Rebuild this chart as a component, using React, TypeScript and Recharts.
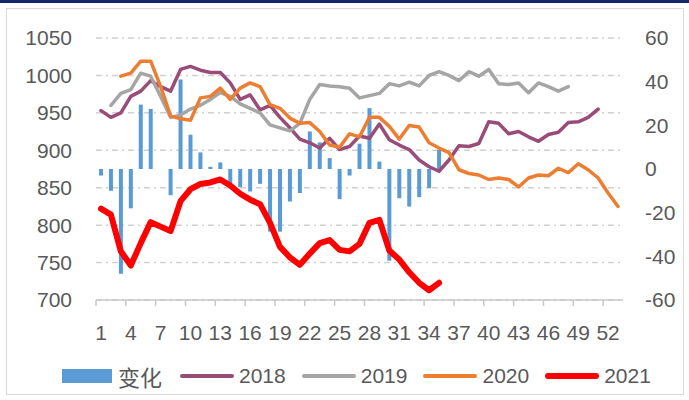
import React from "react";
import { ComposedChart, Bar, Line, XAxis, YAxis, CartesianGrid } from "recharts";

// weekly categories
const weeks = [
  "1", "2", "3", "4", "5", "6", "7", "8", "9", "10", "11", "12", "13", "14", "15", "16", "17", "18",
  "19", "20", "21", "22", "23", "24", "25", "26", "27", "28", "29", "30", "31", "32", "33", "34", "35",
  "36", "37", "38", "39", "40", "41", "42", "43", "44", "45", "46", "47", "48", "49", "50", "51", "52", "53",
];

// 变化 (right axis)
const change = [
  -3, -10, -48, -18, 29.5, 27.5, 0, -12, 41, 15.7, 7.6, 1, 3, -8.3, -8.3, -10.3, -6.8, -28.7,
  -28.7, -14.9, -11, 17.2, 12.2, 5, -13.8, -3, 11.6, 27.9, 3.4, -42, -13.4, -17.2, -12.9, -8.8, 8.8,
  null, null, null, null, null, null, null, null, null, null, null, null, null, null, null, null, null, null,
];

const y2018 = [
  953, 944, 950, 972, 979, 993, 985, 979, 1008, 1012, 1007, 1004, 1004, 990, 968, 974, 954, 960,
  944, 930, 915, 910, 903, 916, 901, 905, 919, 916, 935, 914, 907, 901, 887, 878, 872,
  887, 906, 905, 909, 938, 936, 922, 925, 918, 912, 921, 924, 937, 938, 944, 955, null, null,
];

const y2019 = [
  null, 960, 976, 981, 1003, 999, 972, 944, 947, 955, 960, 968, 977, 972, 962, 956, 950, 934,
  930, 926, 936, 968, 988, 986, 985, 983, 970, 973, 976, 989, 986, 991, 986, 1000, 1005,
  1000, 993, 1005, 999, 1008, 989, 988, 990, 977, 990, 985, 979, 985, null, null, null, null, null,
];

const y2020 = [
  null, null, 999, 1003, 1019, 1019, 985, 946, 942, 940, 970, 972, 983, 968, 983, 990, 985, 961,
  956, 943, 936, 937, 925, 907, 904, 922, 918, 944, 944, 932, 915, 933, 931, 910, 903,
  897, 874, 869, 867, 861, 863, 861, 851, 863, 867, 866, 876, 870, 882, 874, 863, 843, 825,
];

const y2021 = [
  822, 814, 765, 746, 776, 804, 798, 792, 832, 848, 855, 857, 861, 853, 842, 834, 828, 803,
  771, 757, 747, 762, 776, 780, 767, 765, 775, 803, 807, 766, 754, 737, 723, 713, 723,
  null, null, null, null, null, null, null, null, null, null, null, null, null, null, null, null, null, null,
];

const leftTicks = [700, 750, 800, 850, 900, 950, 1000, 1050];
const rightTicks = [-60, -40, -20, 0, 20, 40, 60];

const data = weeks.map((w, i) => ({
  week: w,
  change: change[i],
  y2018: y2018[i],
  y2019: y2019[i],
  y2020: y2020[i],
  y2021: y2021[i],
}));

const lines = [
  { key: "y2018", name: "2018", color: "#9a4c78", width: 3.5 },
  { key: "y2019", name: "2019", color: "#a5a5a5", width: 3.5 },
  { key: "y2020", name: "2020", color: "#ed7d31", width: 3.5 },
  { key: "y2021", name: "2021", color: "#ff0000", width: 6 },
];

const FONT = "'Liberation Sans', Arial, sans-serif";
const TEXT = "#595959";
const AXIS = "#c8c8c8";
const FS = 21;
const W = 689;
const H = 400;
const LEFT_W = 96;
const RIGHT_W = 66;
const BAND = (W - LEFT_W - RIGHT_W) / weeks.length;
const X_MARGIN = 19;

const XTick = (props: any) => {
  const { x, y, payload } = props;
  const bx = x - BAND / 2;
  return (
    <g>
      <line x1={bx} x2={bx} y1={y - 6 - X_MARGIN} y2={y - X_MARGIN} stroke={AXIS} strokeWidth={1.5} />
      <text x={x} y={y} dy="0.71em" textAnchor="middle" fill={TEXT} fontSize={FS} fontFamily={FONT}>
        {payload.value}
      </text>
    </g>
  );
};

export default function App() {
  return (
    <div style={{ position: "absolute", left: 0, top: 0, width: W, height: H, background: "#fff" }}>
      <div style={{ position: "absolute", left: 0, top: 0, width: W, height: 3, background: "#14276b" }} />
      <div
        style={{
          position: "absolute",
          left: 6,
          top: 8,
          width: 676,
          height: 385,
          border: "1px solid #d9d9d9",
        }}
      />
      <div style={{ position: "absolute", left: 0, top: 0 }}>
        <ComposedChart width={W} height={H} data={data} margin={{ top: 38, right: 0, bottom: 60, left: 0 }}>
          <CartesianGrid
            vertical={false}
            yAxisId="left"
            stroke="#d0d0d0"
            strokeWidth={1.5}
            strokeDasharray="6 4 2 4"
          />
          <XAxis
            dataKey="week"
            interval={2}
            height={40}
            tickLine={false}
            tickSize={6}
            tickMargin={X_MARGIN}
            stroke={AXIS}
            strokeWidth={1.5}
            tick={<XTick />}
          />
          <YAxis
            yAxisId="left"
            domain={[700, 1050]}
            ticks={leftTicks}
            width={LEFT_W}
            axisLine={false}
            tickLine={false}
            tickMargin={18}
            tick={{ fill: TEXT, fontSize: FS, fontFamily: FONT }}
          />
          <YAxis
            yAxisId="right"
            orientation="right"
            domain={[-60, 60]}
            ticks={rightTicks}
            width={RIGHT_W}
            axisLine={false}
            tickLine={false}
            tickMargin={16}
            tick={{ fill: TEXT, fontSize: FS, fontFamily: FONT }}
          />
          <Bar yAxisId="right" dataKey="change" fill="#5b9bd5" barSize={4} isAnimationActive={false} />
          {lines.map((s) => (
            <Line
              key={s.key}
              yAxisId="left"
              dataKey={s.key}
              stroke={s.color}
              strokeWidth={s.width}
              dot={false}
              activeDot={false}
              strokeLinejoin="round"
              strokeLinecap="round"
              isAnimationActive={false}
            />
          ))}
        </ComposedChart>
      </div>
      {/* Legend */}
      <div
        style={{
          position: "absolute",
          left: 62,
          top: 364,
          height: 24,
          display: "flex",
          alignItems: "center",
          gap: 16,
          fontFamily: FONT,
          fontSize: FS,
          color: TEXT,
        }}
      >
        <div style={{ display: "flex", alignItems: "center", gap: 6, marginRight: 2 }}>
          <div style={{ width: 50, height: 14, background: "#5b9bd5" }} />
          <span style={{ fontFamily: "'Noto Sans CJK SC', sans-serif", fontSize: 22 }}>变化</span>
        </div>
        {lines.map((s) => (
          <div key={s.key} style={{ display: "flex", alignItems: "center", gap: 5 }}>
            <div style={{ width: 54, height: s.width + 0.5, background: s.color, borderRadius: 3 }} />
            <span>{s.name}</span>
          </div>
        ))}
      </div>
    </div>
  );
}
